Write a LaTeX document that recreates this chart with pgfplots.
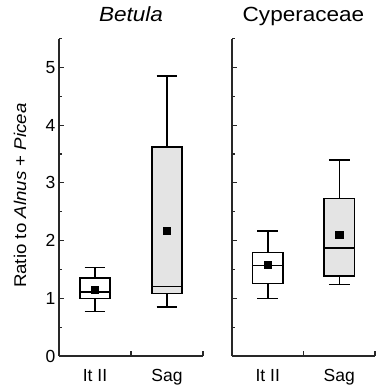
\documentclass[border=0pt]{standalone}
\usepackage{fontspec}
\setmainfont{Liberation Sans}
\newfontfamily\stretchfont[FakeStretch=1.1]{Liberation Sans}
\usepackage{pgfplots}
\usepgfplotslibrary{statistics}
\pgfplotsset{compat=1.18}
\definecolor{boxgray}{RGB}{228,228,228}
\definecolor{axgray}{RGB}{40,40,40}
\pgfplotsset{
  panel/.style={
    scale only axis, height=317.4pt,
    xmin=0, xmax=2, ymin=0, ymax=5.5,
    axis x line=bottom, axis y line=left,
    axis line style={-, line width=1.1pt, axgray},
    every tick/.style={line width=1.1pt, axgray},
    tick align=inside,
    /pgf/number format/assume math mode=true,
    major tick length=4.5pt, minor tick length=3pt,
    xtick={1,2}, xticklabels={},
    extra x ticks={0.5,1.5}, extra x tick labels={It II, Sag},
    extra x tick style={major tick length=0pt, tick style={draw=none}},
    xticklabel style={anchor=base, yshift=-25.5pt, font=\fontsize{17.5}{19}\selectfont},
    ytick={0,1,2,3,4,5}, minor ytick={0.5,1.5,2.5,3.5,4.5,5.5},
    yticklabel style={xshift=0pt, font=\fontsize{17.5}{19}\selectfont},
    title style={at={(rel axis cs:0.5,1)}, anchor=base, yshift=11pt, font=\stretchfont\fontsize{20.5}{22}\selectfont},
    clip=false,
  },
  bx/.style={draw=black, line width=1.5pt, boxplot/draw direction=y},
  mn/.style={only marks, mark=square*, mark size=3.6pt, black},
}
\begin{document}
\begin{tikzpicture}
\useasboundingbox (0,0) rectangle (376pt,385pt);
\begin{axis}[panel, width=144pt, at={(59pt,29pt)}, anchor=origin,
  title={\textit{Betula}},
  ylabel={Ratio to \textit{Alnus} + \textit{Picea}},
  ylabel style={at={(rel axis cs:-0.27,0.505)}, anchor=center, font=\stretchfont\fontsize{17}{19}\selectfont},
]
\addplot[bx, fill=white, boxplot prepared={draw position=0.5, lower whisker=0.77, lower quartile=1.0, median=1.11, upper quartile=1.35, upper whisker=1.53, box extend=0.42, whisker extend=0.29}] coordinates {};
\addplot[bx, fill=boxgray, boxplot prepared={draw position=1.5, lower whisker=0.85, lower quartile=1.08, median=1.2, upper quartile=3.62, upper whisker=4.85, box extend=0.42, whisker extend=0.29}] coordinates {};
\addplot[mn] coordinates {(0.5,1.15) (1.5,2.17)};
\end{axis}
\begin{axis}[panel, width=143pt, at={(232pt,29pt)}, anchor=origin,
  title={Cyperaceae}, yticklabels={},
]
\addplot[bx, fill=white, boxplot prepared={draw position=0.5, lower whisker=1.0, lower quartile=1.26, median=1.57, upper quartile=1.79, upper whisker=2.17, box extend=0.42, whisker extend=0.29}] coordinates {};
\addplot[bx, fill=boxgray, boxplot prepared={draw position=1.5, lower whisker=1.24, lower quartile=1.39, median=1.87, upper quartile=2.73, upper whisker=3.40, box extend=0.42, whisker extend=0.29}] coordinates {};
\addplot[mn] coordinates {(0.5,1.58) (1.5,2.10)};
\end{axis}
\end{tikzpicture}
\end{document}
